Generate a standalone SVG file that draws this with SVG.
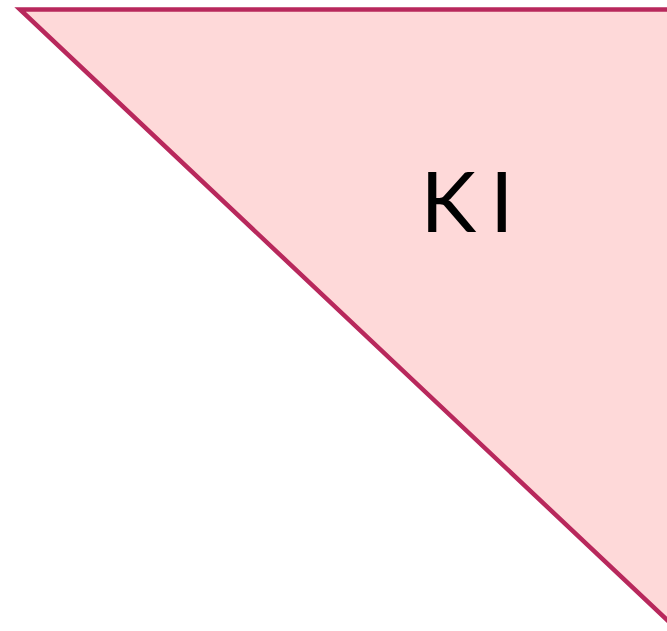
<svg xmlns="http://www.w3.org/2000/svg" width="667" height="631" viewBox="0 0 667 631">
<style>
.tri{fill:#fed9d9;stroke:#b8285c;stroke-width:4.5;stroke-linejoin:miter}
.lbl{font-family:Lato,"Open Sans",sans-serif;font-size:84px;fill:#000;text-anchor:middle}
</style>
<rect width="667" height="631" fill="#fff"/>
<g id="node-ki">
<polygon class="tri" points="20,9.5 700,9.5 700,651"/>
<text class="lbl" x="474" y="232" letter-spacing="14">KI</text>
</g>
</svg>
